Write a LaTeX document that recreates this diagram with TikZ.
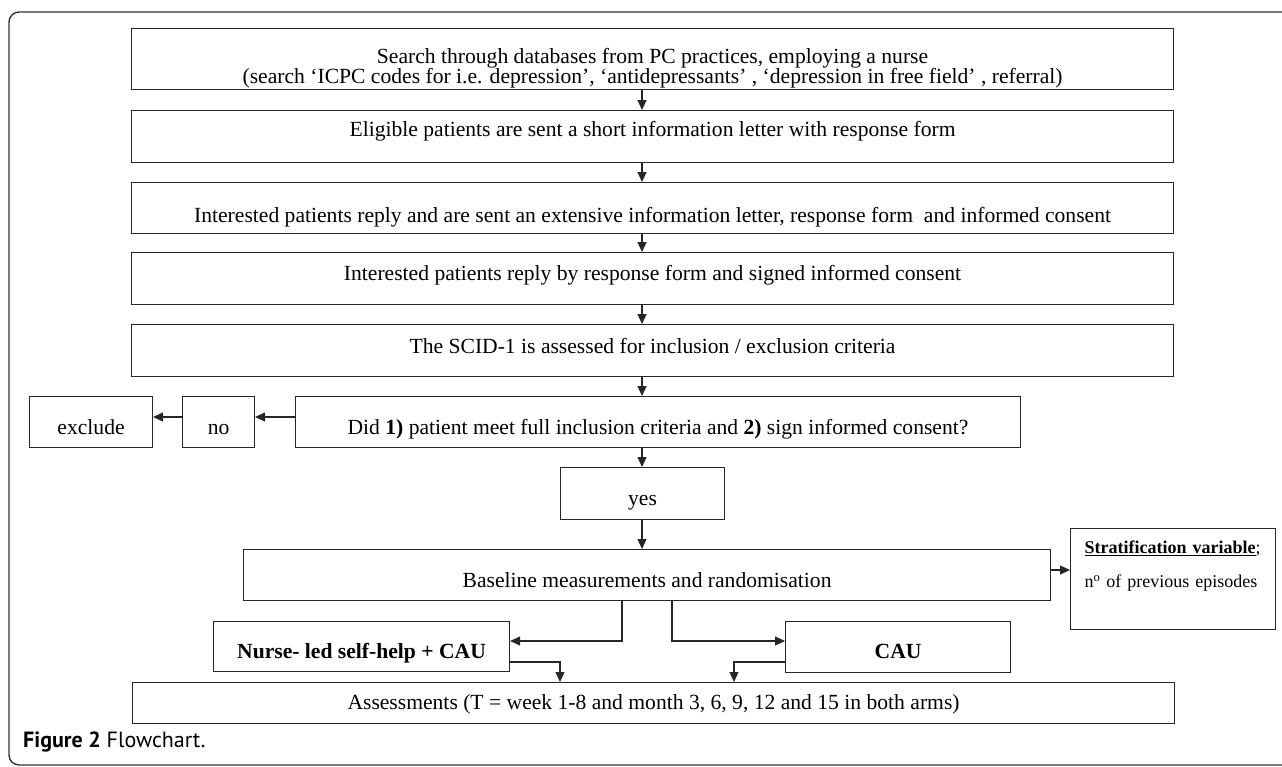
\documentclass[tikz,border=0pt]{standalone}
\usepackage{fontspec}
\setmainfont{Liberation Serif}
\newfontfamily\capfont{PT Sans}
\usetikzlibrary{arrows.meta}
\newcommand\tightlines{\lineskiplimit=-20pt\relax}

\begin{document}
\begin{tikzpicture}[x=1pt, y=-1pt, every node/.style = {font = \fontsize{21.6}{20}\selectfont\tightlines, inner sep = 0pt, anchor = north west}, stepbox/.style = {draw = black!85, line width = 1.1pt, align = center}, widebox/.style = {stepbox, minimum width = 1042pt}, arr/.style = {draw = black!85, line width = 1.1pt, -{Triangle[length = 10pt, width = 9pt]}}]
    \useasboundingbox (0,0) rectangle (1282,766);
    \draw[black!80, line width = 1.4pt, rounded corners = 10pt] (1300,12) -- (9,12) -- (9,765) -- (1300,765);

    \node[widebox, text height = 55pt, text depth = 6pt] (search) at (131,28) {Search through databases from PC practices, employing a nurse\\(search ‘ICPC codes for i.e. depression’, ‘antidepressants’ , ‘depression in free field’ , referral)};
    \node[widebox, text height = 26pt, text depth = 26pt] (eligible) at (131,110) {Eligible patients are sent a short information letter with response form};
    \node[widebox, text height = 40pt, text depth = 11pt] (extensive) at (131,182) {Interested patients reply and are sent an extensive information letter, response form~ and informed consent};
    \node[widebox, text height = 28pt, text depth = 24pt] (reply) at (131,252) {Interested patients reply by response form and signed informed consent};
    \node[widebox, text height = 29pt, text depth = 23pt] (scid) at (131,324) {The SCID-1 is assessed for inclusion / exclusion criteria};
    \node[stepbox, minimum width = 725pt, text height = 38pt, text depth = 13pt] (decide) at (295,396) {Did \textbf{1)} patient meet full inclusion criteria and \textbf{2)} sign informed consent?};
    \node[stepbox, minimum width = 72pt, text height = 38pt, text depth = 13pt] (no) at (182,396) {no};
    \node[stepbox, minimum width = 123pt, text height = 38pt, text depth = 13pt] (exclude) at (29,396) {exclude};
    \node[stepbox, minimum width = 164pt, text height = 38pt, text depth = 14pt] (yes) at (560,467) {yes};
    \node[stepbox, minimum width = 807pt, text height = 38pt, text depth = 13pt] (baseline) at (243,549) {Baseline measurements and randomisation};
    \node[stepbox, align = left, text width = 177pt, inner xsep = 14pt, text height = 25pt, text depth = 76pt, font = \fontsize{18}{34}\selectfont] (strat) at (1070,528) {\textbf{\underline{Stratification variable}};\\n\textsuperscript{o} of previous episodes};
    \node[stepbox, minimum width = 296pt, text height = 37pt, text depth = 13pt, font = \fontsize{21.6}{24}\selectfont\bfseries] (nurse) at (213,621) {Nurse- led self-help + CAU};
    \node[stepbox, minimum width = 225pt, text height = 37pt, text depth = 14pt, font = \fontsize{21.6}{24}\selectfont\bfseries] (cau) at (785,621) {CAU};
    \node[widebox, text height = 27pt, text depth = 14pt] (assess) at (132,682) {Assessments (T = week 1-8 and month 3, 6, 9, 12 and 15 in both arms)};
    \node[anchor = base west, font = \capfont\fontsize{22}{24}\selectfont] (caption) at (23,747) {\textbf{Figure 2} Flowchart.};

    % main column
    \coordinate (col) at (642,0);
    \foreach \a/\b in {search/eligible, eligible/extensive, extensive/reply, reply/scid, scid/decide, decide/yes, yes/baseline}
        \draw[arr] (\a.south -| col) -- (\b.north -| col);

    % no branch
    \coordinate (norow) at (0,417);
    \draw[arr] (decide.west |- norow) -- (no.east |- norow);
    \draw[arr] (no.west |- norow) -- (exclude.east |- norow);

    \coordinate (stratrow) at (0,570);
    \draw[arr] (baseline.east |- stratrow) -- (strat.west |- stratrow);

    % randomisation arms
    \coordinate (splitL) at (622,641);
    \coordinate (splitR) at (672,641);
    \draw[arr] (baseline.south -| splitL) |- (nurse.east |- splitL);
    \draw[arr] (baseline.south -| splitR) |- (cau.west |- splitR);
    \coordinate (joinL) at (560,662);
    \coordinate (joinR) at (734,662);
    \draw[arr] (nurse.east |- joinL) -| (assess.north -| joinL);
    \draw[arr] (cau.west |- joinR) -| (assess.north -| joinR);
\end{tikzpicture}
\end{document}
